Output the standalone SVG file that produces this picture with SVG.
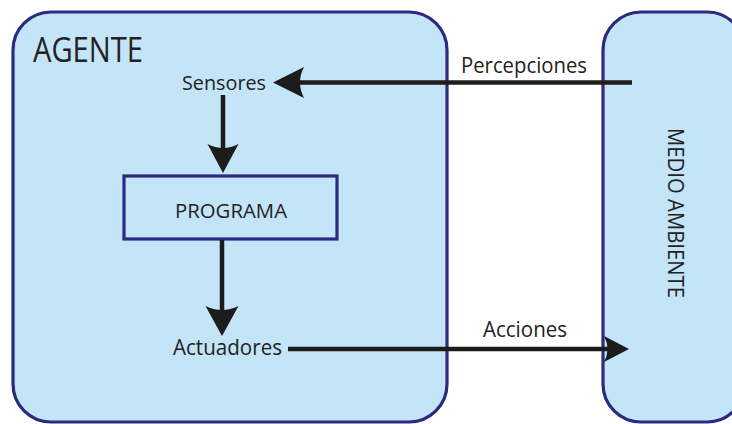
<svg xmlns="http://www.w3.org/2000/svg" width="732" height="424" viewBox="0 0 732 424">
<style>
.box{fill:#c4e4f8;stroke:#2b2a7f;stroke-width:3.2}
.t{font-family:"Open Sans","Noto Sans","Liberation Sans",sans-serif;fill:#222;}
.ln{stroke:#1c1c1c;stroke-width:4.5;fill:none}
.hd{fill:#1c1c1c}
</style>
<rect width="732" height="424" fill="#ffffff"/>
<g id="agente">
<rect class="box" x="13" y="12" width="434" height="410" rx="38" ry="38"/>
<text class="t" x="33" y="62" font-size="34" textLength="110" lengthAdjust="spacingAndGlyphs">AGENTE</text>
</g>
<g id="medio">
<rect class="box" x="603" y="12" width="142" height="410" rx="38" ry="38"/>
<text class="t" transform="translate(668,128) rotate(90)" x="0" y="0" font-size="21" textLength="170" lengthAdjust="spacingAndGlyphs">MEDIO AMBIENTE</text>
</g>
<g id="sensores">
<text class="t" x="182" y="90" font-size="20" textLength="84" lengthAdjust="spacingAndGlyphs">Sensores</text>
</g>
<g id="programa">
<rect class="box" x="124" y="176" width="213" height="63"/>
<text class="t" x="175" y="218" font-size="20.5" textLength="112" lengthAdjust="spacingAndGlyphs">PROGRAMA</text>
</g>
<g id="actuadores">
<text class="t" x="173" y="355" font-size="21" textLength="109" lengthAdjust="spacingAndGlyphs">Actuadores</text>
</g>
<g id="connectors">
<line class="ln" x1="632" y1="82.5" x2="292" y2="82.5"/>
<path class="hd" d="M273,82.5 L304,67 Q296,82.5 304,98 Z"/>
<text class="t" x="461" y="73" font-size="21" textLength="126" lengthAdjust="spacingAndGlyphs">Percepciones</text>
<line class="ln" x1="223" y1="95" x2="223" y2="158"/>
<path class="hd" d="M223,173 L207.5,144 Q223,152 238.5,144 Z"/>
<line class="ln" x1="222" y1="240" x2="222" y2="320"/>
<path class="hd" d="M222,336 L205.5,306 Q222,314 238.5,306 Z"/>
<line class="ln" x1="288" y1="349" x2="612" y2="349"/>
<path class="hd" d="M629,349 L604,336 Q611,349 604,362 Z"/>
<text class="t" x="483" y="337" font-size="21" textLength="84" lengthAdjust="spacingAndGlyphs">Acciones</text>
</g>
</svg>
